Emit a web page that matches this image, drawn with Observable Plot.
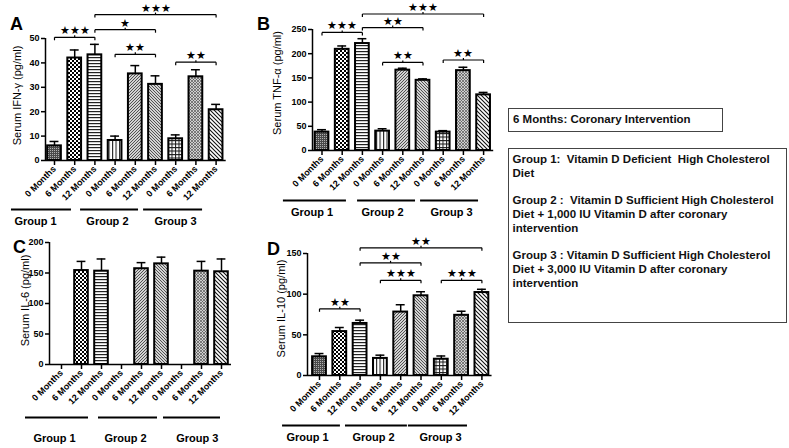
<!DOCTYPE html>
<html><head><meta charset="utf-8">
<script src="https://cdn.jsdelivr.net/npm/d3@7"></script>
<script src="https://cdn.jsdelivr.net/npm/@observablehq/plot@0.6"></script>
<style>
body{margin:0;background:#fff;}
#wrap{position:relative;width:789px;height:448px;overflow:hidden;font-family:"Liberation Sans",Arial,sans-serif;background:#fff;}
.panel{position:absolute;}
.box{position:absolute;border:1.5px solid #444;box-sizing:border-box;font-weight:bold;font-size:11.5px;color:#111;white-space:pre;}
.box p{margin:0 0 13px 0;line-height:14px;}
</style></head><body>
<svg width="0" height="0" style="position:absolute">
<defs>
<pattern id="p0" patternUnits="userSpaceOnUse" width="2" height="2"><rect width="2" height="2" fill="#4a4a4a"/><rect width="1" height="1" fill="#b0b0b0"/></pattern>
<pattern id="p1" patternUnits="userSpaceOnUse" width="4" height="4"><rect width="4" height="4" fill="#fff"/><rect width="2" height="2" fill="#000"/><rect x="2" y="2" width="2" height="2" fill="#000"/></pattern>
<pattern id="p2" patternUnits="userSpaceOnUse" width="4" height="3"><rect width="4" height="3" fill="#fff"/><rect width="4" height="1.2" fill="#222"/></pattern>
<pattern id="p3" patternUnits="userSpaceOnUse" width="3.5" height="4"><rect width="3.5" height="4" fill="#fff"/><rect width="1.1" height="4" fill="#222"/></pattern>
<pattern id="p4" patternUnits="userSpaceOnUse" width="3" height="3"><rect width="3" height="3" fill="#d2d2d2"/><path d="M0,3L3,0M-1,1L1,-1M2,4L4,2" stroke="#444" stroke-width="0.9"/></pattern>
<pattern id="p5" patternUnits="userSpaceOnUse" width="3" height="3"><rect width="3" height="3" fill="#d2d2d2"/><path d="M0,0L3,3M-1,2L1,4M2,-1L4,1" stroke="#444" stroke-width="0.9"/></pattern>
<pattern id="p6" patternUnits="userSpaceOnUse" width="3.5" height="3.5"><rect width="3.5" height="3.5" fill="#fff"/><path d="M0.5,0V3.5M0,0.5H3.5" stroke="#1a1a1a" stroke-width="1"/></pattern>
<pattern id="p7" patternUnits="userSpaceOnUse" width="3" height="3"><rect width="3" height="3" fill="#cfcfcf"/><path d="M0,3L3,0M-1,1L1,-1M2,4L4,2M0,0L3,3" stroke="#555" stroke-width="0.7"/></pattern>
<pattern id="p8" patternUnits="userSpaceOnUse" width="4" height="4"><rect width="4" height="4" fill="#fff"/><path d="M0,0L4,4M-1,3L1,5M3,-1L5,1" stroke="#111" stroke-width="1.1"/></pattern>
</defs></svg>
<div id="wrap"></div>
<script>
// ---------- data ----------
const months = ["0 Months","6 Months","12 Months","0 Months","6 Months","12 Months","0 Months","6 Months","12 Months"];
const groups = ["Group 1","Group 2","Group 3"];

const ifnLabel = "Serum IFN-γ (pg/ml)";
const ifnMean = [6, 42, 43.3, 8.2, 35.5, 31.2, 8.9, 34.3, 20.8];
const ifnErr  = [1.8, 3.3, 4.3, 1.8, 3.4, 3.5, 1.6, 2.9, 2.2];
const ifnTicks = [0, 10, 20, 30, 40, 50];
const ifnSig = [
  {from:0, to:2, y:50.5, stars:"★★★"},
  {from:2, to:8, y:59.8, stars:"★★★"},
  {from:2, to:5, y:53.6, stars:"★"},
  {from:3, to:5, y:43.5, stars:"★★"},
  {from:6, to:8, y:40.3, stars:"★★"}
];

const tnfLabel = "Serum TNF-α (pg/ml)";
const tnfMean = [38, 209, 221, 40, 166, 145, 38, 165, 115];
const tnfErr  = [5, 7, 10, 5, 4, 3, 3, 7, 5];
const tnfTicks = [0, 50, 100, 150, 200, 250];
const tnfSig = [
  {from:0, to:2, y:244, stars:"★★★"},
  {from:2, to:5, y:254, stars:"★★"},
  {from:2, to:8, y:282, stars:"★★★"},
  {from:3, to:5, y:182, stars:"★★"},
  {from:6, to:8, y:187, stars:"★★"}
];

const il6Label = "Serum IL-6 (pg/ml)";
const il6Mean = [0, 154, 153, 0, 157, 165, 0, 153, 152];
const il6Err  = [0, 15, 20, 0, 10, 11, 0, 16, 21];
const il6Ticks = [0, 50, 100, 150, 200];
const il6Sig = [];

const il10Label = "Serum IL-10 (pg/ml)";
const il10Mean = [23, 54, 64, 21, 78, 98, 20, 74, 102];
const il10Err  = [4, 5, 4, 4, 9, 5, 4, 5, 4];
const il10Ticks = [0, 50, 100, 150];
const il10Sig = [
  {from:0, to:2, y:82, stars:"★★"},
  {from:3, to:5, y:117, stars:"★★★"},
  {from:6, to:8, y:117, stars:"★★★"},
  {from:2, to:5, y:138.5, stars:"★★"},
  {from:2, to:8, y:157, stars:"★★"}
];

// ---------- layout (pixels) ----------
const layouts = {
  A: {left:0, top:0, w:235, h:230, axisX:45, x0:54, step:20.2, y0:160, yTop:38, gl:49, gt:61,
      lines:[[-2.13,0.84],[1.29,4.16],[4.41,7.33]], labels:[-0.94,2.62,5.99], ldx:-28, ldy:-4,
      letter:"A", lx:10, ly:30},
  B: {left:250, top:0, w:250, h:230, axisX:62, x0:71.5, step:20.2, y0:150, yTop:29, gl:50, gt:62,
      lines:[[-1.91,1.21],[1.76,4.63],[4.88,7.75]], labels:[-0.49,3.0,6.41], ldx:-35, ldy:-7,
      letter:"B", lx:7, ly:30},
  C: {left:0, top:225, w:235, h:223, axisX:49, x0:61, step:20, y0:139, yTop:17, gl:53, gt:74,
      lines:[[-1.8,1.35],[1.85,4.8],[5.1,7.95]], labels:[-0.35,3.2,6.79], ldx:-24, ldy:-3,
      letter:"C", lx:13, ly:28},
  D: {left:250, top:225, w:250, h:223, axisX:57, x0:69, step:20.3, y0:150, yTop:28, gl:50, gt:62,
      lines:[[-1.82,1.03],[1.28,4.33],[4.38,7.29]], labels:[-0.59,2.66,5.96], ldx:-26, ldy:-6,
      letter:"D", lx:17, ly:30}
};

const FONT = "'Liberation Sans', Arial, sans-serif";

function panel(mean, err, ticks, sig, label, L) {
  const rows = mean.map((v, i) => ({i, v, e: err[i], pat: `url(#p${i})`})).filter(d => d.v > 0);
  const xd = [(L.axisX - L.x0) / L.step, 8.5];
  const xr = [L.axisX, L.x0 + 8.5 * L.step];
  const yMax = ticks[ticks.length - 1];
  const k = (L.y0 - L.yTop) / yMax;
  const t = 3 / k, tm = 2 / k;
  const hw = 0.34, cap = 0.22;
  const segs = [];
  sig.forEach(b => {
    const m = (b.from + b.to) / 2;
    segs.push({x1:b.from, x2:b.to, y1:b.y, y2:b.y});
    segs.push({x1:b.from, x2:b.from, y1:b.y, y2:b.y - t});
    segs.push({x1:b.to, x2:b.to, y1:b.y, y2:b.y - t});
    segs.push({x1:m, x2:m, y1:b.y, y2:b.y + tm});
  });
  const p = Plot.plot({
    width: L.w, height: L.h,
    marginLeft: L.axisX, marginTop: L.yTop, marginBottom: L.h - L.y0, marginRight: L.w - xr[1],
    x: {type: "linear", domain: xd, range: xr},
    y: {type: "linear", domain: [0, yMax], range: [L.y0, L.yTop]},
    color: {type: "identity"},
    style: {overflow: "visible", fontFamily: FONT, background: "transparent"},
    marks: [
      Plot.ruleX(rows, {x: "i", y1: "v", y2: d => d.v + d.e, stroke: "#000", strokeWidth: 1.5}),
      Plot.ruleY(rows, {x1: d => d.i - cap, x2: d => d.i + cap, y: d => d.v + d.e, stroke: "#000", strokeWidth: 1.5}),
      Plot.rectY(rows, {x1: d => d.i - hw, x2: d => d.i + hw, y1: 0, y2: "v", fill: "pat", stroke: "#000", strokeWidth: 2}),
      Plot.axisY({ticks: ticks, tickSize: 4, tickPadding: 2, fontWeight: "bold", fontSize: 9, label: null, stroke: "#000", strokeWidth: 1.5}),
      Plot.ruleX([xd[0]], {y1: 0, y2: yMax, stroke: "#000", strokeWidth: 1.5}),
      Plot.ruleY([0], {stroke: "#000", strokeWidth: 1.5}),
      Plot.axisX({ticks: d3.range(9), tickFormat: i => months[i], tickRotate: -45, tickSize: 5, tickPadding: 2,
                  fontWeight: "bold", fontSize: 9, label: null, stroke: "#000", strokeWidth: 1.5}),
      Plot.link(segs, {x1: "x1", x2: "x2", y1: "y1", y2: "y2", stroke: "#000", strokeWidth: 1.2}),
      Plot.text(sig, {x: b => (b.from + b.to) / 2, y: "y", text: "stars", lineAnchor: "bottom", dy: -3, fontSize: 11, fill: "#000"}),
      Plot.ruleY(L.lines, {x1: g => g[0], x2: g => g[1], y: () => 0, dy: L.gl, stroke: "#000", strokeWidth: 2}),
      Plot.text(groups, {x: (g, i) => L.labels[i], y: () => 0, dy: L.gt, text: g => g, fontSize: 11, fontWeight: "bold", fill: "#000"}),
      Plot.text([label], {frameAnchor: "left", textAnchor: "middle", rotate: -90, dx: L.ldx, dy: L.ldy, text: d => d, fontSize: 11, fill: "#000"})
    ]
  });
  p.classList.add("panel");
  p.style.left = L.left + "px";
  p.style.top = L.top + "px";
  return p;
}

const wrap = document.getElementById("wrap");
wrap.appendChild(panel(ifnMean, ifnErr, ifnTicks, ifnSig, ifnLabel, layouts.A));
wrap.appendChild(panel(tnfMean, tnfErr, tnfTicks, tnfSig, tnfLabel, layouts.B));
wrap.appendChild(panel(il6Mean, il6Err, il6Ticks, il6Sig, il6Label, layouts.C));
wrap.appendChild(panel(il10Mean, il10Err, il10Ticks, il10Sig, il10Label, layouts.D));

// panel letters (absolute baseline positions)
const ov = d3.select(wrap).append("svg").attr("width", 789).attr("height", 448)
  .style("position", "absolute").style("left", 0).style("top", 0).style("pointer-events", "none");
Object.values(layouts).forEach(L => {
  ov.append("text").attr("x", L.left + L.lx).attr("y", L.top + L.ly).text(L.letter)
    .attr("font-family", FONT).attr("font-weight", "bold").attr("font-size", 18);
});

// legend boxes
const note = "6 Months: Coronary Intervention";
const groupNotes = [
  "Group 1:  Vitamin D Deficient  High Cholesterol\nDiet",
  "Group 2 :  Vitamin D Sufficient High Cholesterol\nDiet + 1,000 IU Vitamin D after coronary\nintervention",
  "Group 3 : Vitamin D Sufficient High Cholesterol\nDiet + 3,000 IU Vitamin D after coronary\nintervention"
];
const b1 = document.createElement("div");
b1.className = "box";
Object.assign(b1.style, {left: "508px", top: "108px", width: "215px", height: "24px", lineHeight: "21px", paddingLeft: "4px"});
b1.textContent = note;
wrap.appendChild(b1);
const b2 = document.createElement("div");
b2.className = "box";
Object.assign(b2.style, {left: "508px", top: "148px", width: "279px", height: "175px", padding: "2.5px 3.5px"});
groupNotes.forEach(t => { const p = document.createElement("p"); p.textContent = t; b2.appendChild(p); });
wrap.appendChild(b2);
</script>
</body></html>
